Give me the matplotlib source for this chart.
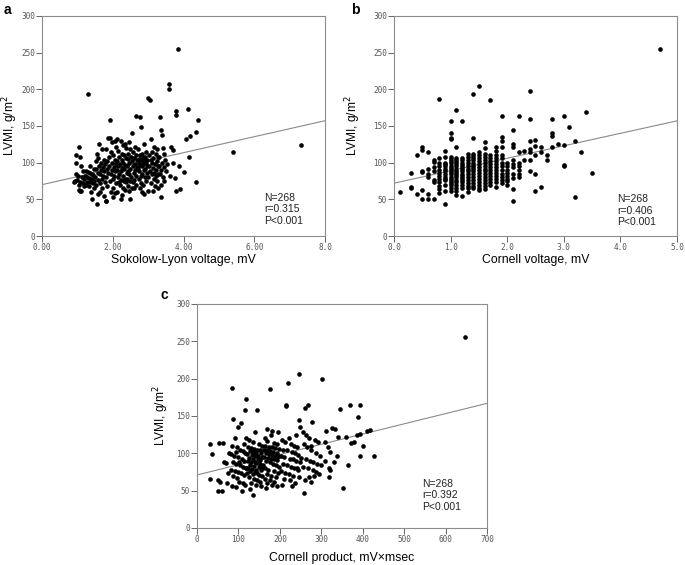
import matplotlib
matplotlib.use("Agg")
import matplotlib.pyplot as plt
import numpy as np

# ---- panel a: Sokolow-Lyon voltage (mV) vs LVMI (g/m2) ----
sokolow_x = [
    1.04, 0.97, 1.07, 0.97, 1.10, 1.15, 0.95, 1.02, 1.12, 1.18, 1.00, 0.92, 0.90, 1.08, 1.15, 1.05, 1.20, 1.05, 1.11, 1.08,
    1.30, 1.25, 1.30, 1.35, 1.40, 1.45, 1.22, 1.28, 1.33, 1.38, 1.42, 1.48, 1.26, 1.36, 1.44, 1.24, 1.32, 1.46, 1.38, 1.40, 1.47, 1.35,
    1.62, 1.70, 1.55, 1.58, 1.75, 1.52, 1.66, 1.78, 1.60, 1.72, 1.54, 1.68, 1.76, 1.57, 1.64, 1.73, 1.51, 1.69, 1.59, 1.77,
    1.63, 1.53, 1.71, 1.65, 1.58, 1.74, 1.80, 1.56,
    1.93, 1.86, 1.92, 2.05, 1.98, 2.08, 1.82, 1.95, 2.02, 1.88, 2.06, 1.84, 1.97, 2.09, 1.90, 2.03, 1.83, 1.99, 2.07, 1.87,
    1.94, 2.04, 1.81, 2.00, 1.91, 2.08, 1.85, 2.01, 1.96, 2.06, 2.00, 1.80,
    2.12, 2.22, 2.35, 2.28, 2.38, 2.15, 2.25, 2.32, 2.18, 2.37, 2.27, 2.13, 2.30, 2.21, 2.36, 2.16, 2.26, 2.33, 2.11, 2.24,
    2.39, 2.19, 2.29, 2.14, 2.34, 2.23, 2.31, 2.17, 2.38, 2.20, 2.28, 2.35, 2.12, 2.25, 2.22,
    2.67, 2.53, 2.45, 2.62, 2.48, 2.58, 2.42, 2.66, 2.51, 2.60, 2.44, 2.69, 2.55, 2.47, 2.64, 2.41, 2.57, 2.68, 2.50, 2.63,
    2.43, 2.59, 2.46, 2.65, 2.52, 2.40, 2.61, 2.49, 2.56, 2.67, 2.44, 2.60, 2.53, 2.47, 2.48,
    2.76, 2.79, 2.88, 2.72, 2.95, 2.83, 2.77, 2.91, 2.86, 2.74, 2.98, 2.81, 2.89, 2.73, 2.94, 2.85, 2.78, 2.97, 2.82, 2.71,
    2.92, 2.87, 2.75, 2.96, 2.84, 2.79, 2.90, 2.73, 2.93, 2.80, 2.86, 2.76, 2.99, 2.83, 2.88,
    3.00, 3.05, 3.09, 3.18, 3.25, 3.12, 3.21, 3.03, 3.28, 3.15, 3.07, 3.24, 3.11, 3.19, 3.02, 3.27, 3.14, 3.22, 3.06, 3.17,
    3.29, 3.10, 3.23, 3.01, 3.16, 3.26, 3.08, 3.20, 3.28, 3.13,
    3.60, 3.60, 3.33, 3.35, 3.39, 3.42, 3.45, 3.32, 3.48, 3.38, 3.52, 3.31, 3.44, 3.36, 3.50, 3.34, 3.41, 3.46, 3.37, 3.36,
    3.85, 3.80, 3.80, 4.13, 4.42, 4.06, 4.18, 4.36, 3.66, 3.69, 4.16, 3.87, 4.00, 3.76, 3.90, 3.79, 4.35, 3.62, 3.70, 5.41, 7.32,
]
lvmi_a = [
    122, 110, 108, 99, 96, 88, 85, 82, 80, 78, 76, 75, 74, 73, 72, 70, 68, 63, 62, 61,
    194, 88, 87, 86, 85, 83, 82, 80, 79, 78, 76, 75, 74, 73, 72, 70, 68, 66, 60, 50, 91, 95,
    125, 118, 112, 106, 104, 102, 100, 98, 96, 94, 92, 90, 88, 86, 84, 82, 80, 78, 76, 74,
    72, 70, 66, 60, 57, 55, 48, 44,
    158, 134, 133, 130, 128, 122, 118, 114, 110, 108, 104, 102, 100, 98, 96, 94, 92, 90, 88, 86,
    84, 82, 80, 78, 75, 72, 68, 65, 60, 58, 53, 48,
    132, 130, 126, 124, 120, 116, 112, 110, 108, 106, 104, 102, 100, 98, 97, 95, 93, 92, 90, 88,
    86, 84, 82, 80, 78, 76, 75, 74, 73, 70, 66, 63, 60, 56, 51,
    164, 141, 128, 122, 118, 115, 112, 110, 108, 106, 105, 104, 102, 100, 98, 96, 95, 94, 92, 90,
    88, 86, 84, 82, 80, 78, 76, 75, 73, 70, 68, 66, 65, 62, 51,
    162, 149, 125, 118, 114, 112, 110, 108, 107, 105, 104, 103, 102, 100, 99, 98, 97, 96, 95, 93,
    92, 90, 88, 86, 84, 82, 80, 78, 75, 72, 70, 65, 62, 60, 57,
    188, 185, 132, 122, 118, 115, 112, 110, 108, 106, 104, 102, 100, 98, 96, 95, 93, 90, 88, 86,
    85, 84, 82, 80, 78, 75, 72, 68, 65, 62,
    207, 200, 162, 144, 138, 120, 112, 108, 104, 100, 98, 96, 94, 90, 88, 84, 80, 75, 70, 53,
    255, 170, 165, 173, 158, 132, 136, 142, 122, 117, 108, 96, 87, 79, 64, 61, 74, 82, 100, 115, 124,
]

# ---- panel b: Cornell voltage (mV, 0.1 steps) vs LVMI ----
cornell_cols = [0.1, 0.3, 0.4, 0.5, 0.6, 0.7, 0.8, 0.9, 1.0, 1.1, 1.2, 1.3, 1.4, 1.5, 1.6, 1.7, 1.8,
                1.9, 2.0, 2.1, 2.2, 2.3, 2.4, 2.5, 2.6, 2.7, 2.8, 2.9, 3.0, 3.1, 3.2, 3.3, 3.4, 3.5, 4.7]
lvmi_b_cols = [
    [60],
    [86, 67, 65],
    [110, 57],
    [121, 117, 89, 87, 63, 50],
    [114, 92, 85, 80, 57, 50],
    [104, 101, 94, 88, 76, 73, 50],
    [187, 106, 100, 95, 90, 86, 82, 78, 74, 68, 64, 58],
    [116, 108, 100, 98, 95, 92, 88, 84, 80, 78, 76, 70, 62, 43],
    [157, 141, 134, 132, 108, 105, 102, 99, 96, 93, 90, 87, 84, 81, 78, 75, 72, 69, 66, 62],
    [172, 121, 107, 104, 101, 98, 95, 92, 89, 86, 83, 80, 77, 74, 70, 66, 62, 56],
    [157, 106, 103, 100, 97, 94, 91, 88, 85, 82, 79, 76, 73, 70, 66, 55],
    [112, 108, 104, 100, 96, 92, 88, 84, 80, 76, 72, 68, 65, 60],
    [193, 134, 112, 109, 106, 103, 100, 97, 94, 91, 88, 84, 80, 76, 72, 68, 65],
    [205, 115, 110, 106, 102, 98, 94, 90, 86, 82, 78, 74, 70, 66, 63],
    [128, 120, 112, 108, 104, 100, 96, 92, 88, 84, 80, 76, 72, 68, 64],
    [185, 110, 106, 102, 98, 94, 90, 86, 82, 78, 74, 70],
    [122, 116, 110, 106, 102, 98, 94, 90, 86, 82, 78, 74, 67],
    [163, 135, 130, 121, 111, 106, 100, 95, 90, 85, 80, 76, 72],
    [100, 95, 90, 86, 82, 78, 75, 70],
    [144, 125, 122, 103, 98, 94, 84, 79, 64, 48],
    [163, 114, 100, 96, 90, 85, 80],
    [116, 104],
    [198, 160, 130, 118, 114, 104, 88],
    [131, 123, 111, 85, 61],
    [121, 115, 67],
    [111, 103],
    [160, 141, 137, 121],
    [126],
    [164, 124, 97, 95],
    [148],
    [130, 53],
    [114],
    [169],
    [86],
    [255],
]

# ---- panel c: Cornell product (mV x msec) vs LVMI ----
product_x = [
    32, 36, 32, 51, 51, 61, 52, 62, 70, 72, 75, 78, 66, 55,
    85, 88, 98, 107, 118, 117, 118, 92, 84, 96, 103, 110, 116, 82, 90, 100, 108, 113, 86, 94,
    104, 112, 119, 83, 91, 99, 106, 114, 88, 96, 102, 110, 117, 85, 93, 108, 118, 101, 95, 113,
    146, 140, 125, 135, 150, 158, 122, 130, 138, 145, 152, 128, 136, 143, 155, 121, 133, 141, 148, 157,
    126, 134, 147, 153, 124, 131, 139, 144, 151, 159, 127, 137, 149, 156, 123, 132, 142, 154, 129, 140,
    146, 121, 135, 150, 158, 125, 138, 144, 152, 130, 143, 155, 127, 134, 142,
    175, 168, 182, 195, 178, 163, 170, 186, 192, 165, 174, 181, 188, 197, 161, 169, 177, 184, 193, 166,
    173, 180, 189, 198, 162, 171, 179, 187, 194, 167, 176, 183, 191, 199, 164, 172, 185, 196, 168, 178,
    190, 163, 175, 187, 170, 182, 194, 166, 179, 192,
    219, 215, 245, 248, 247, 214, 222, 238, 205, 212, 226, 233, 241, 208, 218, 229, 236, 244, 203, 211,
    224, 231, 240, 249, 207, 216, 228, 235, 243, 202, 213, 221, 232, 246, 209, 225, 237, 204, 230, 242,
    260, 268, 278, 255, 262, 271, 284, 292, 258, 266, 275, 288, 296, 252, 264, 273, 281, 290, 299, 256,
    269, 279, 286, 294, 261, 274, 259, 283, 270, 276,
    302, 344, 318, 318, 312, 325, 334, 340, 308, 316, 322, 330, 338, 320, 310,
    393, 388, 370, 418, 394, 428, 394, 364, 352, 378, 372, 386, 360, 410, 400,
    648,
]
lvmi_c = [
    66, 99, 112, 64, 50, 50, 114, 114, 87, 60, 74, 100, 88, 62,
    188, 146, 135, 141, 173, 158, 120, 120, 110, 108, 105, 103, 100, 99, 97, 95, 92, 90, 88, 86,
    84, 82, 80, 78, 76, 75, 73, 71, 69, 67, 62, 60, 58, 56, 55, 50, 81, 88, 102, 112,
    158, 128, 118, 115, 112, 110, 108, 107, 106, 105, 104, 103, 102, 101, 100, 99, 98, 97, 96, 95,
    94, 93, 92, 91, 90, 89, 88, 87, 86, 85, 84, 83, 82, 81, 80, 79, 78, 77, 76, 75,
    74, 73, 72, 71, 70, 68, 66, 64, 62, 60, 58, 56, 52, 44, 98,
    186, 133, 130, 128, 125, 120, 117, 114, 112, 110, 109, 108, 107, 106, 105, 104, 103, 102, 101, 100,
    99, 98, 97, 96, 95, 94, 93, 92, 91, 90, 88, 86, 84, 82, 80, 78, 76, 74, 72, 70,
    68, 66, 64, 62, 60, 58, 56, 54, 100, 95,
    194, 165, 145, 135, 206, 163, 120, 125, 118, 115, 112, 110, 108, 105, 104, 102, 100, 98, 96, 95,
    93, 92, 90, 88, 86, 84, 82, 80, 78, 76, 74, 72, 70, 68, 66, 64, 60, 58, 56, 80,
    161, 165, 142, 128, 124, 120, 118, 115, 112, 108, 105, 100, 96, 94, 92, 90, 88, 86, 84, 82,
    80, 78, 75, 72, 64, 61, 47, 70, 68, 110,
    200, 160, 80, 68, 130, 134, 132, 122, 115, 108, 102, 88, 96, 77, 90,
    165, 149, 165, 131, 126, 97, 96, 85, 53, 115, 114, 124, 122, 130, 110,
    256,
]

# regression lines as drawn in the figure: (intercept, slope)
fit_a = (70, 10.9)
fit_b = (72, 17.0)
fit_c = (71, 0.137)

stats_a = "N=268\nr=0.315\nP<0.001"
stats_b = "N=268\nr=0.406\nP<0.001"
stats_c = "N=268\nr=0.392\nP<0.001"

cornell_x = [c for c, ys in zip(cornell_cols, lvmi_b_cols) for _ in ys]
lvmi_b = [y for ys in lvmi_b_cols for y in ys]

plt.rcParams['font.family'] = ['Liberation Sans', 'DejaVu Sans']

fig = plt.figure(figsize=(6.85, 5.65), dpi=100)


def panel(rect, x, y, fit, xmax, xticks, xticklabels, xlabel, stats, letter, letter_xy,
          ylab_x, xlab_y, stats_xy):
    ax = fig.add_axes(rect)
    ax.scatter(x, y, s=11, color='black', linewidths=0, zorder=3)
    xs = np.array([0, xmax])
    ax.plot(xs, fit[0] + fit[1] * xs, color='#8a8a8a', lw=0.8, zorder=2)
    ax.set_xlim(0, xmax)
    ax.set_ylim(0, 300)
    ax.set_xticks(xticks)
    ax.set_xticklabels(xticklabels)
    ax.set_yticks(range(0, 301, 50))
    for sp in ax.spines.values():
        sp.set_color('#8c8c8c')
        sp.set_linewidth(0.8)
    ax.tick_params(direction='out', length=4, width=0.7, color='#666666',
                   labelsize=5.6, labelcolor='#555555', pad=1)
    for lab in ax.get_xticklabels() + ax.get_yticklabels():
        lab.set_family('DejaVu Sans Mono')
    ax.set_ylabel('LVMI, g/m$^2$', fontsize=8.6)
    ax.yaxis.set_label_coords(ylab_x, 0.5)
    ax.set_xlabel(xlabel, fontsize=8.8)
    ax.xaxis.set_label_coords(0.5, xlab_y)
    ax.text(stats_xy[0], stats_xy[1], stats, transform=ax.transAxes, fontsize=7.5,
            va='top', ha='left', linespacing=1.2, color='#222222')
    fig.text(letter_xy[0], letter_xy[1], letter, fontsize=10, fontweight='bold', va='top')
    return ax


panel([0.0613, 0.5823, 0.4132, 0.3894], sokolow_x, lvmi_a, fit_a, 8,
      [0, 2, 4, 6, 8], ['0.00', '2.00', '4.00', '6.00', '8.0'],
      'Sokolow-Lyon voltage, mV', stats_a, 'a', (0.005, 0.995),
      -0.078, -0.08, (0.785, 0.197))

panel([0.5752, 0.5823, 0.4131, 0.3894], cornell_x, lvmi_b, fit_b, 5,
      [0, 1, 2, 3, 4, 5], ['0.0', '1.0', '2.0', '3.0', '4.0', '5.0'],
      'Cornell voltage, mV', stats_b, 'b', (0.512, 0.995),
      -0.11, -0.08, (0.79, 0.19))

panel([0.2876, 0.0655, 0.4234, 0.3965], product_x, lvmi_c, fit_c, 700,
      list(range(0, 701, 100)), [str(v) for v in range(0, 701, 100)],
      'Cornell product, mV\u00d7msec', stats_c, 'c', (0.235, 0.49),
      -0.088, -0.105, (0.776, 0.22))

fig.savefig('out.png', dpi=100)
